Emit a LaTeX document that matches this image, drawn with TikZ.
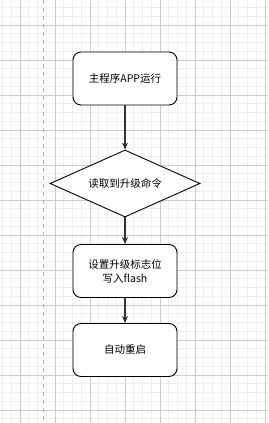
\documentclass[tikz,border=0pt]{standalone}
\usepackage{fontspec}
\setmainfont{Noto Sans CJK SC}
\usetikzlibrary{shapes.geometric,arrows.meta}
\begin{document}
\begin{tikzpicture}[x=1pt, y=-1pt, >={Stealth[length=7pt,width=6pt]},
  stepbox/.style={draw, line width=0.9pt, rounded corners=8pt, minimum width=104pt, minimum height=53pt, align=center, fill=white},
  decision/.style={draw, line width=0.9pt, diamond, aspect=2.24, minimum width=150pt, minimum height=67pt, inner sep=0pt, fill=white},
  flow/.style={->, line width=1.1pt, draw=black!80}]
\useasboundingbox (0,0) rectangle (268,423);
\fill[white] (0,0) rectangle (268,423);
% grid
\foreach \k in {0,...,31} \draw[black!7, line width=0.6pt] (2.5+8.75*\k,0) -- (2.5+8.75*\k,423);
\foreach \k in {0,...,48} \draw[black!7, line width=0.6pt] (0,7.5+8.75*\k) -- (268,7.5+8.75*\k);
\foreach \k in {0,...,7} \draw[black!20, line width=0.6pt] (20+35*\k,0) -- (20+35*\k,423);
\foreach \k in {0,...,11} \draw[black!20, line width=0.6pt] (0,25+35*\k) -- (268,25+35*\k);
\draw[black!30, line width=0.8pt, dash pattern=on 4pt off 4pt] (43.3,0) -- (43.3,423);

\fontsize{10.5}{14}\selectfont
\node[stepbox] (run) at (125,78.5) {主程序APP运行};
\node[decision] (cmd) at (125,183.5) {读取到升级命令};
\node[stepbox] (flag) at (125,271) {设置升级标志位\\写入flash};
\node[stepbox] (reboot) at (125,350) {自动重启};

\draw[flow] (run) -- (cmd);
\draw[flow] (cmd) -- (flag);
\draw[flow] (flag) -- (reboot);
\end{tikzpicture}
\end{document}
